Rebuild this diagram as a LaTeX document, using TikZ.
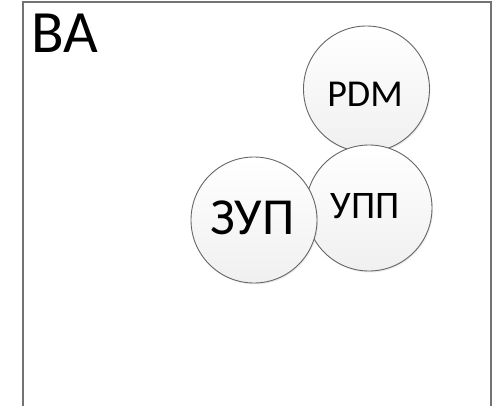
\documentclass[tikz,border=0pt]{standalone}
\usepackage{fontspec}
\setmainfont{Carlito}
\usetikzlibrary{shadows}
\begin{document}
\begin{tikzpicture}[x=1pt,y=-1pt,
  bubble/.style={circle,draw=black!60,line width=0.9pt,inner sep=0pt,minimum size=126pt,
    top color=white,bottom color=black!6,drop shadow={opacity=0.15,shadow xshift=1pt,shadow yshift=-1.5pt}},
  frame/.style={draw=black!55,line width=2pt}]
\useasboundingbox (0,0) rectangle (493,405);
\fill[white] (0,0) rectangle (493,405);
\coordinate (bl) at (22.5,406);
\coordinate (tl) at (22.5,1.5);
\coordinate (tr) at (491,1.5);
\coordinate (br) at (491,406);
\draw[frame] (bl) -- (tl) -- (tr) -- (br);
\node[anchor=base west,inner sep=0pt,font=\fontsize{60}{60}\selectfont] (ba) at (31,52) {BA};
\node[bubble] (pdm) at (366.5,89) {};
\node[font=\fontsize{38}{38}\selectfont] at (365,94) {PDM};
\node[bubble] (upp) at (369,208) {};
\node[font=\fontsize{39}{39}\selectfont] at (365,206) {УПП};
\node[bubble] (zup) at (254,220) {};
\node[font=\fontsize{52}{52}\selectfont] at (252.5,218) {ЗУП};
\end{tikzpicture}
\end{document}
